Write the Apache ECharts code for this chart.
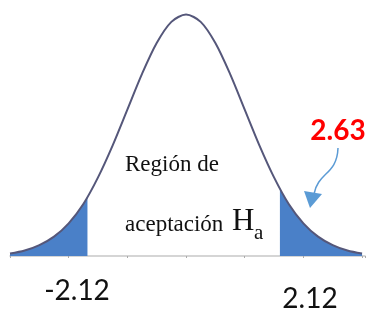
<!DOCTYPE html>
<html>
<head>
<meta charset="utf-8">
<script src="https://cdn.jsdelivr.net/npm/echarts@6/dist/echarts.min.js"></script>
<style>html,body{margin:0;padding:0;background:#fff}#c{width:368px;height:311px}</style>
</head>
<body>
<div id="c"></div>
<script>
// Bell curve (standardized units)
var curveX = [-3, -2.75, -2.5, -2.25, -2, -1.75, -1.5, -1.25, -1, -0.75, -0.5, -0.25, 0, 0.25, 0.5, 0.75, 1, 1.25, 1.5, 1.75, 2, 2.25, 2.5, 2.75, 3];
var curveY = [0.004, 0.009, 0.018, 0.032, 0.054, 0.086, 0.130, 0.183, 0.242, 0.301, 0.352, 0.387, 0.399, 0.387, 0.352, 0.301, 0.242, 0.183, 0.130, 0.086, 0.054, 0.032, 0.018, 0.009, 0.004];
// Shaded tails
var leftTailX = [-3, -2.75, -2.5, -2.25, -2, -1.75, -1.68];
var leftTailY = [0.004, 0.009, 0.018, 0.032, 0.054, 0.086, 0.097];
var rightTailX = [1.6, 1.75, 2, 2.25, 2.5, 2.75, 3];
var rightTailY = [0.111, 0.086, 0.054, 0.032, 0.018, 0.009, 0.004];
// Labels
var critLabels = ['-2.12', '2.12'];
var statLabel = '2.63';

function pairs(xs, ys) { return xs.map(function (x, i) { return [x, ys[i]]; }); }

var chart = echarts.init(document.getElementById('c'), null, { renderer: 'canvas' });
var fill = '#4a80c8';
chart.setOption({
  animation: false,
  backgroundColor: '#fff',
  grid: { left: 10, right: 3, top: 14, bottom: 55 },
  xAxis: {
    type: 'value', min: -3, max: 3.05, interval: 1,
    axisLine: { show: true, lineStyle: { color: '#c8c8c8', width: 1.5 } },
    axisTick: { show: true, length: 2, lineStyle: { color: '#aaa' } },
    axisLabel: { show: false },
    splitLine: { show: false }
  },
  yAxis: { type: 'value', min: 0, max: 0.4, show: false, splitLine: { show: false } },
  series: [
    { type: 'line', data: pairs(leftTailX, leftTailY), smooth: 0.3, symbol: 'none',
      lineStyle: { width: 0 }, areaStyle: { color: fill, opacity: 1 }, z: 1 },
    { type: 'line', data: pairs(rightTailX, rightTailY), smooth: 0.3, symbol: 'none',
      lineStyle: { width: 0 }, areaStyle: { color: fill, opacity: 1 }, z: 1 },
    { type: 'line', data: pairs(curveX, curveY), smooth: 0.3, symbol: 'none',
      lineStyle: { color: '#55577a', width: 2 }, z: 3 }
  ],
  graphic: [
    { type: 'text', left: 125, top: 153, style: { text: 'Región de', font: '23px "Liberation Serif"', fill: '#111' } },
    { type: 'text', left: 125, top: 213, style: { text: 'aceptación', font: '23px "Liberation Serif"', fill: '#111' } },
    { type: 'text', left: 232, top: 206, style: { text: 'H', font: '31px "Liberation Serif"', fill: '#111' } },
    { type: 'text', left: 254, top: 223, style: { text: 'a', font: '21px "Liberation Serif"', fill: '#111' } },
    { type: 'text', x: 77, y: 291, style: { text: critLabels[0], font: '28px Lato', fill: '#111', align: 'center', verticalAlign: 'middle' } },
    { type: 'text', x: 310, y: 299, style: { text: critLabels[1], font: '28px Lato', fill: '#111', align: 'center', verticalAlign: 'middle' } },
    { type: 'text', x: 338, y: 131, style: { text: statLabel, font: 'bold 28px Lato', fill: '#ff0000', align: 'center', verticalAlign: 'middle' } },
    { type: 'bezierCurve', shape: { x1: 338, y1: 148, cpx1: 337, cpy1: 175, cpx2: 318, cpy2: 172, x2: 314, y2: 194 },
      style: { stroke: '#5b9bd5', lineWidth: 1.5, fill: 'none' } },
    { type: 'polygon', shape: { points: [[304, 191], [322, 194], [310, 208]] }, style: { fill: '#5b9bd5' } }
  ]
});
</script>
</body>
</html>
